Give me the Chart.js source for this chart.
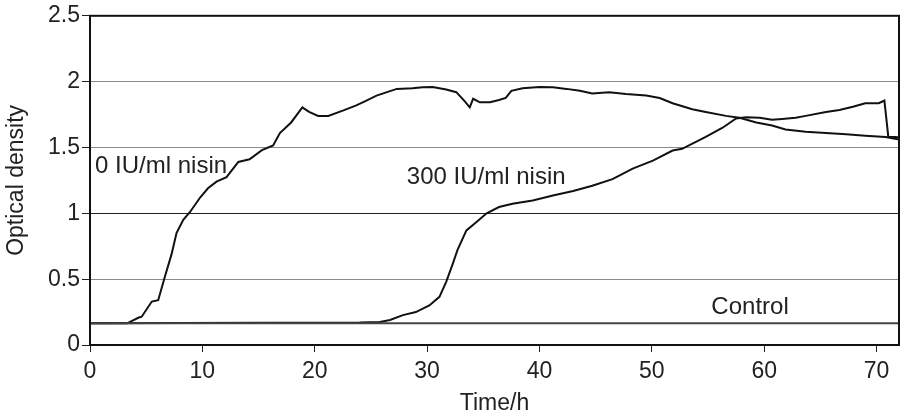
<!DOCTYPE html>
<html>
<head>
<meta charset="utf-8">
<script src="https://cdn.jsdelivr.net/npm/chart.js@4/dist/chart.umd.min.js"></script>
<style>
  html, body { margin: 0; padding: 0; background: #fff; }
  canvas { display: block; }
</style>
</head>
<body>
<canvas id="odChart" width="901" height="418"></canvas>
<script>
// optical density readings
const t0 = [0, 3.3, 4.3, 4.6, 5.5, 6.07, 6.67, 7.26, 7.7, 8.3, 8.9, 9.8, 10.5, 11.26, 12.15, 13.2, 14.2, 15.3, 16.3, 16.9, 17.9, 18.9, 19.5, 20.3, 21.2, 22.5, 23.7, 24.6, 25.5, 27.3, 28.7, 29.6, 30.5, 31.7, 32.6, 33.3, 33.8, 34.1, 34.7, 35.6, 36.4, 37.0, 37.5, 38.5, 40, 41.2, 42.4, 43.6, 44.7, 46.2, 47.7, 49.5, 50.7, 51.85, 53.6, 54.8, 56.6, 57.8, 59.3, 60.7, 61.9, 63.7, 65.5, 67.3, 69.0, 70.8, 72];
const od0 = [0.165, 0.165, 0.207, 0.215, 0.33, 0.34, 0.52, 0.69, 0.85, 0.95, 1.01, 1.12, 1.19, 1.24, 1.275, 1.39, 1.41, 1.48, 1.515, 1.61, 1.69, 1.805, 1.77, 1.74, 1.74, 1.78, 1.82, 1.856, 1.894, 1.945, 1.95, 1.957, 1.96, 1.94, 1.92, 1.856, 1.805, 1.87, 1.843, 1.843, 1.86, 1.876, 1.93, 1.95, 1.96, 1.957, 1.945, 1.93, 1.91, 1.92, 1.906, 1.894, 1.876, 1.836, 1.79, 1.77, 1.74, 1.725, 1.69, 1.667, 1.636, 1.62, 1.61, 1.60, 1.59, 1.58, 1.56];

const t300 = [0, 24.0, 25.8, 26.7, 27.85, 29.0, 30.2, 31.1, 31.7, 32.3, 32.7, 33.5, 34.4, 35.3, 36.4, 37.6, 39.4, 41.2, 43.0, 44.7, 46.5, 48.3, 50.1, 51.85, 52.7, 54.8, 56.3, 57.5, 58.4, 59.6, 60.7, 61.6, 62.8, 63.7, 65.5, 66.7, 67.9, 69.0, 70.2, 70.7, 71.05, 71.7, 72];
const od300 = [0.165, 0.17, 0.175, 0.19, 0.227, 0.25, 0.30, 0.366, 0.48, 0.62, 0.72, 0.87, 0.934, 1.00, 1.048, 1.073, 1.098, 1.136, 1.17, 1.21, 1.26, 1.34, 1.40, 1.477, 1.49, 1.58, 1.65, 1.72, 1.73, 1.725, 1.71, 1.716, 1.725, 1.74, 1.77, 1.785, 1.81, 1.836, 1.836, 1.856, 1.58, 1.58, 1.575];

const tControl = [0, 72];
const odControl = [0.165, 0.165];

const yTicks = [0, 0.5, 1, 1.5, 2, 2.5];

// curve labels (text, time, OD)
const curveLabels = [
  ['0 IU/ml nisin', 0.45, 1.36],
  ['300 IU/ml nisin', 28.2, 1.27],
  ['Control', 55.3, 0.285]
];

const pts = (xs, ys) => xs.map((x, i) => ({ x: x, y: ys[i] }));
const FONT = 'Liberation Sans, Arial, Helvetica, sans-serif';
const INK = '#222';

const frameAndLabels = {
  id: 'frameAndLabels',
  afterDatasetsDraw(chart) {
    const { ctx, chartArea, scales } = chart;
    ctx.save();
    ctx.strokeStyle = '#111';
    ctx.lineWidth = 2;
    ctx.strokeRect(chartArea.left, chartArea.top, chartArea.right - chartArea.left, chartArea.bottom - chartArea.top);
    ctx.fillStyle = INK;
    ctx.font = '24px ' + FONT;
    ctx.textBaseline = 'middle';
    ctx.textAlign = 'left';
    curveLabels.forEach(([txt, x, y]) => {
      ctx.fillText(txt, scales.x.getPixelForValue(x), scales.y.getPixelForValue(y));
    });
    ctx.restore();
  }
};

new Chart(document.getElementById('odChart'), {
  type: 'line',
  data: {
    datasets: [{
      label: 'Control',
      data: pts(tControl, odControl),
      borderColor: '#444',
      borderWidth: 2
    }, {
      label: '0 IU/ml nisin',
      data: pts(t0, od0),
      borderColor: '#111',
      borderWidth: 2
    }, {
      label: '300 IU/ml nisin',
      data: pts(t300, od300),
      borderColor: '#111',
      borderWidth: 2
    }]
  },
  options: {
    responsive: false,
    devicePixelRatio: 1,
    animation: false,
    layout: { padding: { top: 15, right: 2, bottom: 1, left: 0 } },
    elements: { point: { radius: 0 }, line: { tension: 0 } },
    plugins: { legend: { display: false }, tooltip: { enabled: false } },
    scales: {
      x: {
        type: 'linear',
        min: 0,
        max: 72,
        afterFit: (s) => { s.height = 72; },
        ticks: { stepSize: 10, includeBounds: false, color: INK, font: { family: FONT, size: 23 }, padding: 6, maxRotation: 0 },
        grid: { drawOnChartArea: false, drawTicks: true, tickLength: 7, color: '#222' },
        border: { color: '#111', width: 2 },
        title: { display: true, text: 'Time/h', color: INK, font: { family: FONT, size: 23 }, padding: { top: 4, bottom: 0 } }
      },
      y: {
        min: 0,
        max: 2.5,
        afterFit: (s) => { s.width = 90; },
        afterBuildTicks: (s) => { s.ticks = yTicks.map(v => ({ value: v })); },
        ticks: { color: INK, font: { family: FONT, size: 23 }, padding: 2, callback: (v) => String(v) },
        grid: {
          color: (c) => c.tick && c.tick.value === 1 ? '#222' : '#8a8a8a',
          tickColor: '#222',
          tickLength: 8,
          lineWidth: 1
        },
        border: { color: '#111', width: 2 },
        title: { display: true, text: 'Optical density', color: INK, font: { family: FONT, size: 23 }, padding: { top: 3, bottom: 0 } }
      }
    }
  },
  plugins: [frameAndLabels]
});
</script>
</body>
</html>
